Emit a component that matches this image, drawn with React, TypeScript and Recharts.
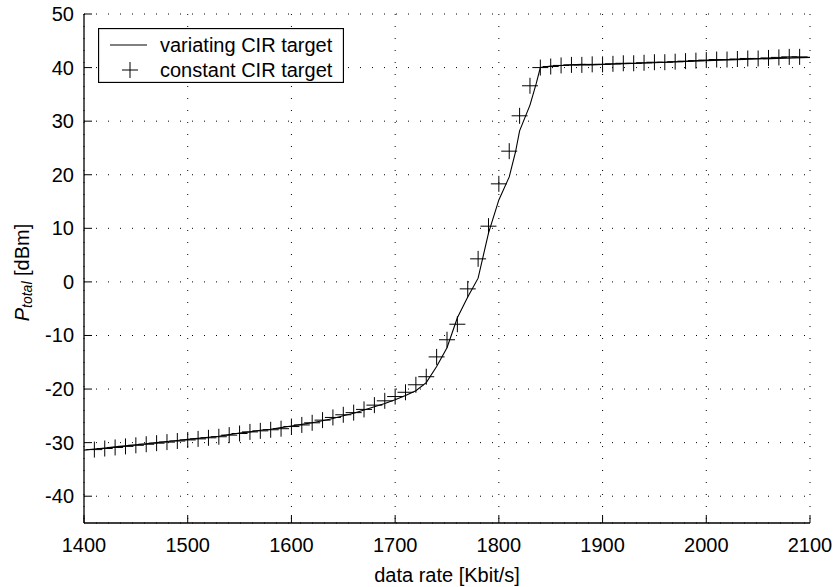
import { CartesianGrid, ComposedChart, Label, Legend, Line, Scatter, XAxis, YAxis } from "recharts";

// x ticks and y ticks of the box
const rateTicks = [1400, 1500, 1600, 1700, 1800, 1900, 2000, 2100];
const powerTicks = [-40, -30, -20, -10, 0, 10, 20, 30, 40, 50];

// variating CIR target (solid line)
const lineRates = [
  1400, 1410, 1420, 1430, 1440, 1450, 1460, 1470, 1480, 1490, 1500, 1510, 1520, 1530, 1540, 1550, 1560,
  1570, 1580, 1590, 1600, 1610, 1620, 1630, 1640, 1650, 1660, 1670, 1680, 1690, 1700, 1710, 1720, 1730,
  1740, 1750, 1760, 1770, 1780, 1790, 1800, 1810, 1816, 1820, 1830, 1836, 1840, 1850, 1860, 1870, 1880,
  1890, 1900, 1950, 2000, 2050, 2100,
];
const linePower = [
  -31.4, -31.2, -31.0, -30.8, -30.6, -30.4, -30.2, -30.0, -29.8, -29.6, -29.4, -29.2, -29.0, -28.8, -28.5,
  -28.2, -28.0, -27.7, -27.5, -27.2, -26.9, -26.6, -26.3, -25.9, -25.5, -25.0, -24.5, -23.9, -23.3, -22.7,
  -22.0, -21.2, -20.3, -18.8, -15.8, -12.3, -6.7, -2.8, 0.7, 9.1, 15.3, 19.6, 24.2, 28.2, 33.0, 37.0, 40.0,
  40.3, 40.4, 40.5, 40.6, 40.5, 40.6, 40.9, 41.3, 41.6, 41.9,
];

// constant CIR target ("+" markers)
const markerRates = [
  1410, 1420, 1430, 1440, 1450, 1460, 1470, 1480, 1490, 1500, 1510, 1520, 1530, 1540, 1550, 1560, 1570,
  1580, 1590, 1600, 1610, 1620, 1630, 1640, 1650, 1660, 1670, 1680, 1690, 1700, 1710, 1720, 1730, 1740,
  1750, 1760, 1770, 1780, 1790, 1800, 1810, 1820, 1830, 1840, 1850, 1860, 1870, 1880, 1890, 1900, 1910,
  1920, 1930, 1940, 1950, 1960, 1970, 1980, 1990, 2000, 2010, 2020, 2030, 2040, 2050, 2060, 2070, 2080,
  2090,
];
const markerPower = [
  -31.3, -31.1, -30.9, -30.7, -30.5, -30.3, -30.1, -29.9, -29.7, -29.5, -29.3, -29.1, -28.9, -28.6, -28.3,
  -28.0, -27.8, -27.6, -27.4, -27.0, -26.7, -26.3, -25.8, -25.3, -24.8, -24.4, -23.8, -23.0, -22.2, -21.4,
  -20.6, -19.2, -17.7, -14.0, -10.8, -7.9, -1.3, 4.3, 10.4, 18.3, 24.4, 31.0, 36.6, 40.0, 40.2, 40.4,
  40.5, 40.5, 40.6, 40.6, 40.7, 40.8, 40.8, 40.9, 41.0, 41.0, 41.1, 41.2, 41.3, 41.4, 41.5, 41.5, 41.6,
  41.7, 41.7, 41.8, 41.9, 42.0, 42.0,
];

const lineData = lineRates.map((x, i) => ({ x, y: linePower[i] }));
const markerData = markerRates.map((x, i) => ({ x, y: markerPower[i] }));

const FONT = '"Liberation Sans", Arial, Helvetica, sans-serif';
const FS = 20;
const TICK = 8;

function BottomTick({ x, y, payload }: any) {
  return (
    <g>
      <line x1={x} x2={x} y1={y} y2={y - TICK} stroke="#000" />
      <text x={x} y={y + 22} textAnchor="middle" dominantBaseline="central" fontSize={FS} fill="#000" fontFamily={FONT}>
        {payload.value}
      </text>
    </g>
  );
}

function TopTick({ x, y }: any) {
  return <line x1={x} x2={x} y1={y} y2={y + TICK} stroke="#000" />;
}

function LeftTick({ x, y, payload }: any) {
  return (
    <g>
      <line x1={x} x2={x + TICK} y1={y} y2={y} stroke="#000" />
      <text x={x - 10} y={y} textAnchor="end" dominantBaseline="central" fontSize={FS} fill="#000" fontFamily={FONT}>
        {payload.value}
      </text>
    </g>
  );
}

function RightTick({ x, y }: any) {
  return <line x1={x} x2={x - TICK} y1={y} y2={y} stroke="#000" />;
}

function Cross({ cx, cy }: any) {
  return <path d={`M${cx - 8},${cy}H${cx + 8}M${cx},${cy - 8}V${cy + 8}`} stroke="#000" strokeWidth={1} fill="none" />;
}

function LegendBox() {
  return (
    <svg width={246} height={55} style={{ display: "block" }}>
      <rect x={0.5} y={0.5} width={245} height={54} fill="#fff" stroke="#000" strokeWidth={1.3} />
      <line x1={12} x2={49} y1={17} y2={17} stroke="#000" />
      <text x={62} y={17} dominantBaseline="central" fontSize={FS} fontFamily={FONT} fill="#000">
        variating CIR target
      </text>
      <path d="M24,42H40M32,34V50" stroke="#000" fill="none" />
      <text x={62} y={42} dominantBaseline="central" fontSize={FS} fontFamily={FONT} fill="#000">
        constant CIR target
      </text>
    </svg>
  );
}

function YTitle({ viewBox }: any) {
  const cx = 22;
  const cy = viewBox.y + viewBox.height / 2 + 4;
  return (
    <text
      x={cx}
      y={cy}
      transform={`rotate(-90, ${cx}, ${cy})`}
      textAnchor="middle"
      dominantBaseline="central"
      fontSize={FS}
      fontFamily={FONT}
      fill="#000"
    >
      <tspan fontStyle="italic">P</tspan>
      <tspan fontStyle="italic" fontSize={14} dy={5}>total</tspan>
      <tspan dy={-5}> [dBm]</tspan>
    </text>
  );
}

function XTitle({ viewBox }: any) {
  return (
    <text
      x={viewBox.x + viewBox.width / 2}
      y={575}
      textAnchor="middle"
      dominantBaseline="central"
      fontSize={FS}
      fontFamily={FONT}
      fill="#000"
    >
      data rate [Kbit/s]
    </text>
  );
}

export default function App() {
  return (
    <div style={{ position: "absolute", left: 0, top: 0, background: "#fff" }}>
      <ComposedChart width={835} height={587} margin={{ top: 14, right: 25, bottom: 0, left: 0 }}>
        <CartesianGrid stroke="#000" strokeDasharray="1 11" strokeWidth={1} />
        <XAxis
          dataKey="x"
          type="number"
          domain={[1400, 2100]}
          ticks={rateTicks}
          height={64}
          tickSize={0}
          tickMargin={0}
          tick={<BottomTick />}
          axisLine={{ stroke: "#000", strokeWidth: 1.3 }}
          allowDataOverflow
        >
          <Label content={<XTitle />} />
        </XAxis>
        <XAxis
          xAxisId="top"
          orientation="top"
          dataKey="x"
          type="number"
          domain={[1400, 2100]}
          ticks={rateTicks}
          height={0}
          tickSize={0}
          tickMargin={0}
          tick={<TopTick />}
          axisLine={{ stroke: "#000", strokeWidth: 1.3 }}
        />
        <YAxis
          type="number"
          domain={[-45, 50]}
          ticks={powerTicks}
          width={84}
          tickSize={0}
          tickMargin={0}
          tick={<LeftTick />}
          axisLine={{ stroke: "#000", strokeWidth: 1.3 }}
          allowDataOverflow
        >
          <Label content={<YTitle />} />
        </YAxis>
        <YAxis
          yAxisId="right"
          orientation="right"
          type="number"
          domain={[-45, 50]}
          ticks={powerTicks}
          width={0}
          tickSize={0}
          tickMargin={0}
          tick={<RightTick />}
          axisLine={{ stroke: "#000", strokeWidth: 1.3 }}
        />
        <Line
          data={lineData}
          dataKey="y"
          type="linear"
          stroke="#000"
          strokeWidth={1.1}
          dot={false}
          isAnimationActive={false}
        />
        <Scatter data={markerData} dataKey="y" shape={<Cross />} isAnimationActive={false} />
        <Legend
          layout="vertical"
          align="center"
          verticalAlign="middle"
          content={<LegendBox />}
          wrapperStyle={{ left: 98, top: 28, width: 246, height: 55 }}
        />
      </ComposedChart>
    </div>
  );
}
